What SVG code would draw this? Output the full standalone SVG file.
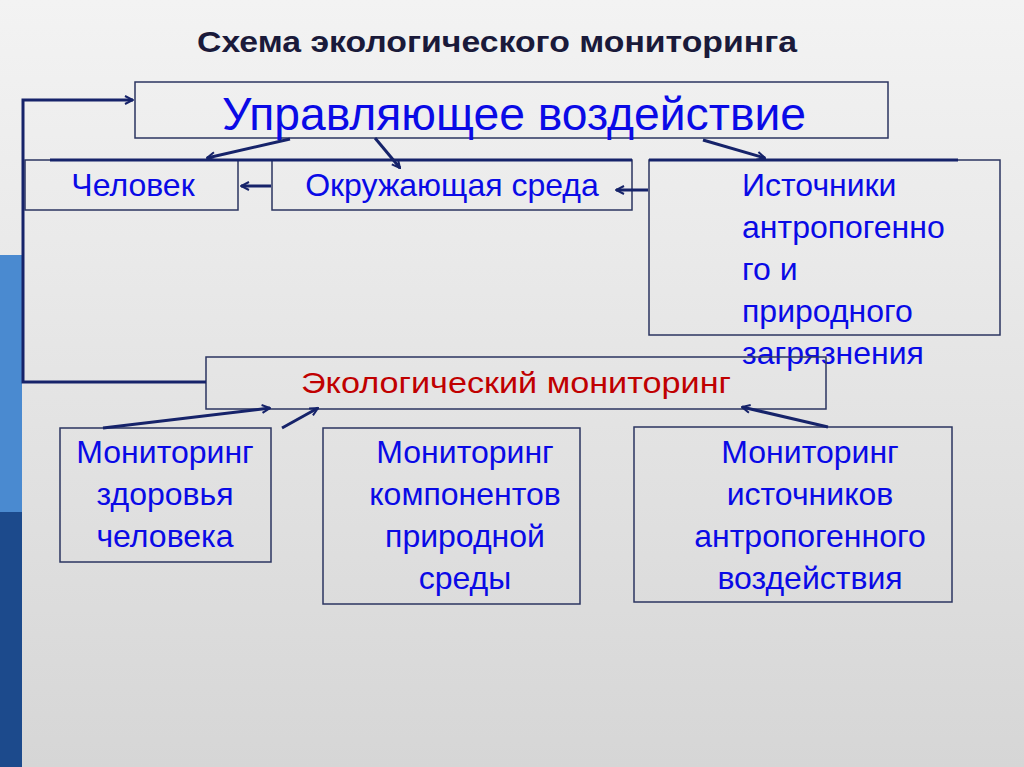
<svg xmlns="http://www.w3.org/2000/svg" width="1024" height="767" viewBox="0 0 1024 767">
<defs>
<linearGradient id="bg" x1="0" y1="0" x2="0" y2="1"><stop offset="0" stop-color="#f3f3f3"/><stop offset="1" stop-color="#d6d6d6"/></linearGradient>
<marker id="ah" viewBox="0 0 10 10" refX="9" refY="5" markerWidth="10" markerHeight="10" markerUnits="userSpaceOnUse" orient="auto"><path d="M1,1 L9,5 L1,9" fill="none" stroke="#16236a" stroke-width="2"/></marker>
<style>
.box{fill:none;stroke:#2b3560;stroke-width:1.5}
.t{font-family:"Liberation Sans",Arial,sans-serif;font-size:32px;fill:#0a0ae6;text-anchor:middle}
.c{stroke:#16236a;stroke-width:3;fill:none}
</style>
</defs>
<rect width="1024" height="767" fill="url(#bg)"/>
<rect x="0" y="255" width="22" height="257" fill="#4a8ad0"/>
<rect x="0" y="512" width="22" height="255" fill="#1c4a8c"/>
<text x="497" y="52" font-family="Liberation Sans,Arial,sans-serif" font-size="30" font-weight="bold" fill="#1a1a3a" text-anchor="middle" textLength="600" lengthAdjust="spacingAndGlyphs">Схема экологического мониторинга</text>
<g id="upr"><rect class="box" x="135" y="82" width="753" height="56"/><text class="t" x="514" y="130" style="font-size:46px" textLength="584" lengthAdjust="spacingAndGlyphs">Управляющее воздействие</text></g>
<g id="chel"><rect class="box" x="25" y="160" width="213" height="50"/><text class="t" x="133" y="196">Человек</text></g>
<g id="okr"><rect class="box" x="272" y="160" width="360" height="50"/><text class="t" x="452" y="196">Окружающая среда</text></g>
<g id="ist"><rect class="box" x="649" y="160" width="351" height="175"/><text class="t" x="742" y="196" style="text-anchor:start"><tspan x="742">Источники</tspan><tspan x="742" dy="42">антропогенно</tspan><tspan x="742" dy="42">го и</tspan><tspan x="742" dy="42">природного</tspan><tspan x="742" dy="42">загрязнения</tspan></text></g>
<g id="eco"><rect class="box" x="206" y="357" width="620" height="52"/><text x="516" y="393" font-family="Liberation Sans,Arial,sans-serif" font-size="30" fill="#c00000" text-anchor="middle" textLength="430" lengthAdjust="spacingAndGlyphs">Экологический мониторинг</text></g>
<g id="m1"><rect class="box" x="60" y="428" width="211" height="134"/><text class="t" x="165" y="463"><tspan x="165">Мониторинг</tspan><tspan x="165" dy="42">здоровья</tspan><tspan x="165" dy="42">человека</tspan></text></g>
<g id="m2"><rect class="box" x="323" y="428" width="257" height="176"/><text class="t" x="465" y="463"><tspan x="465">Мониторинг</tspan><tspan x="465" dy="42">компонентов</tspan><tspan x="465" dy="42">природной</tspan><tspan x="465" dy="42">среды</tspan></text></g>
<g id="m3"><rect class="box" x="634" y="427" width="318" height="175"/><text class="t" x="810" y="463"><tspan x="810">Мониторинг</tspan><tspan x="810" dy="42">источников</tspan><tspan x="810" dy="42">антропогенного</tspan><tspan x="810" dy="42">воздействия</tspan></text></g>
<g id="connectors">
<line class="c" x1="50" y1="160" x2="632" y2="160"/>
<line class="c" x1="649" y1="160" x2="958" y2="160"/>
<polyline class="c" points="206,382 23,382 23,100 133,100" marker-end="url(#ah)"/>
<line class="c" x1="290" y1="139" x2="207" y2="158" marker-end="url(#ah)"/>
<line class="c" x1="375" y1="138" x2="400" y2="168" marker-end="url(#ah)"/>
<line class="c" x1="703" y1="140" x2="765" y2="158" marker-end="url(#ah)"/>
<line class="c" x1="271" y1="186" x2="241" y2="186" marker-end="url(#ah)"/>
<line class="c" x1="648" y1="190" x2="616" y2="190" marker-end="url(#ah)"/>
<line class="c" x1="103" y1="428" x2="270" y2="408" marker-end="url(#ah)"/>
<line class="c" x1="282" y1="428" x2="318" y2="408" marker-end="url(#ah)"/>
<line class="c" x1="828" y1="427" x2="742" y2="407" marker-end="url(#ah)"/>
</g>
</svg>
